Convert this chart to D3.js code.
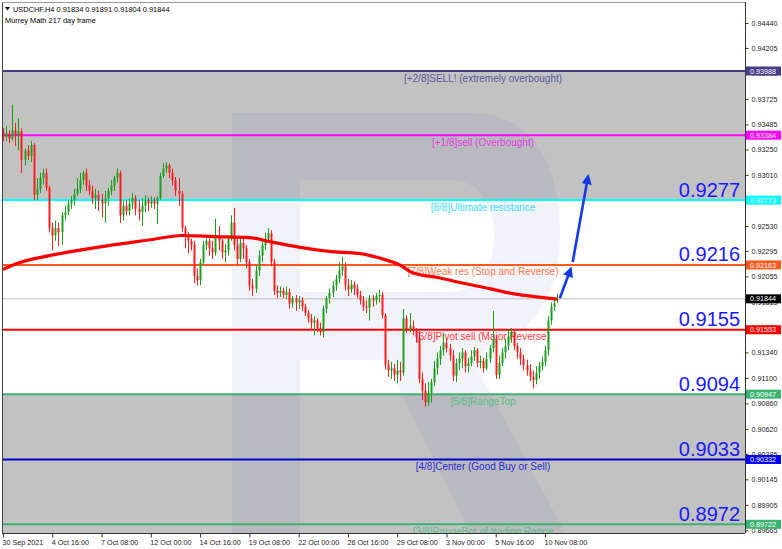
<!DOCTYPE html>
<html><head><meta charset="utf-8">
<script src="https://cdn.jsdelivr.net/npm/d3@7"></script>
<style>
body{margin:0;background:#fff}
svg{display:block}
text{font-family:"Liberation Sans",Arial,sans-serif}
</style>
</head><body><svg id="c" width="782" height="549"></svg>
<script>
// ---------- DATA ----------
const symbolTitle = "USDCHF,H4  0.91834 0.91891 0.91804 0.91844";
const subTitle = "Murrey Math 217 day frame";

const opens = [
.9341,.9337,.9340,.9335,.9343,.9338,.9342,.9315,.9324,.9319,
.9329,.9282,.9288,.9298,.9303,.9289,.9251,.9244,.9251,.9247,
.9263,.9266,.9274,.9277,.9283,.9288,.9296,.9303,.9291,.9286,
.9279,.9282,.9277,.9274,.9279,.9286,.9291,.9298,.9303,.9263,
.9272,.9267,.9274,.9279,.9269,.9266,.9272,.9277,.9274,.9277,
.9274,.9279,.9300,.9307,.9310,.9303,.9296,.9286,.9283,.9251,
.9243,.9239,.9235,.9206,.9202,.9219,.9235,.9239,.9232,.9228,
.9242,.9239,.9228,.9230,.9241,.9256,.9235,.9222,.9237,.9232,
.9219,.9197,.9194,.9211,.9225,.9235,.9241,.9246,.9219,.9192,
.9190,.9192,.9188,.9191,.9180,.9185,.9181,.9183,.9177,.9171,
.9166,.9162,.9164,.9157,.9153,.9175,.9185,.9190,.9197,.9203,
.9211,.9215,.9197,.9193,.9198,.9194,.9188,.9183,.9177,.9176,
.9185,.9183,.9187,.9188,.9169,.9122,.9117,.9119,.9113,.9117,
.9115,.9166,.9156,.9159,.9155,.9148,.9109,.9098,.9087,.9096,
.9106,.9119,.9128,.9136,.9143,.9138,.9131,.9112,.9124,.9128,
.9134,.9121,.9124,.9130,.9136,.9124,.9126,.9119,.9128,.9138,
.9147,.9113,.9124,.9134,.9140,.9149,.9153,.9140,.9134,.9128,
.9122,.9117,.9111,.9108,.9115,.9121,.9125,.9136,.9164,.9177,
.91834];
const highs = [
.9345,.9347,.9343,.9367,.9350,.9354,.9345,.9326,.9329,.9333,
.9331,.9298,.9303,.9307,.9307,.9291,.9256,.9258,.9256,.9266,
.9272,.9277,.9281,.9288,.9298,.9303,.9305,.9307,.9296,.9291,
.9288,.9286,.9283,.9286,.9289,.9296,.9300,.9307,.9305,.9277,
.9277,.9279,.9284,.9282,.9277,.9279,.9282,.9280,.9281,.9280,
.9281,.9303,.9312,.9313,.9312,.9307,.9299,.9298,.9286,.9253,
.9247,.9241,.9239,.9213,.9222,.9239,.9241,.9241,.9239,.9260,
.9253,.9241,.9236,.9244,.9263,.9270,.9241,.9241,.9243,.9235,
.9222,.9203,.9216,.9230,.9239,.9247,.9251,.9249,.9222,.9197,
.9196,.9195,.9196,.9194,.9187,.9188,.9187,.9186,.9180,.9174,
.9170,.9168,.9166,.9162,.9178,.9187,.9194,.9201,.9207,.9219,
.9224,.9219,.9203,.9202,.9201,.9198,.9192,.9187,.9183,.9188,
.9188,.9190,.9193,.9191,.9171,.9127,.9125,.9123,.9127,.9125,
.9175,.9169,.9171,.9164,.9157,.9155,.9115,.9105,.9106,.9109,
.9126,.9134,.9140,.9152,.9147,.9142,.9136,.9128,.9134,.9138,
.9136,.9129,.9136,.9139,.9138,.9131,.9129,.9134,.9141,.9173,
.9150,.9131,.9138,.9147,.9155,.9157,.9155,.9143,.9138,.9132,
.9127,.9123,.9117,.9121,.9125,.9130,.9140,.9168,.9181,.9185,
.91891];
const lows = [
.9333,.9333,.9331,.9333,.9328,.9324,.9303,.9310,.9315,.9313,
.9277,.9277,.9284,.9292,.9286,.9247,.9230,.9239,.9234,.9235,
.9258,.9263,.9269,.9272,.9281,.9284,.9292,.9286,.9282,.9274,
.9269,.9267,.9261,.9256,.9272,.9282,.9286,.9294,.9256,.9258,
.9263,.9263,.9269,.9263,.9258,.9253,.9266,.9267,.9270,.9269,
.9255,.9277,.9298,.9303,.9298,.9291,.9281,.9272,.9247,.9232,
.9227,.9230,.9199,.9197,.9197,.9216,.9230,.9225,.9222,.9225,
.9230,.9222,.9219,.9225,.9239,.9230,.9216,.9219,.9222,.9213,
.9192,.9187,.9190,.9206,.9219,.9230,.9237,.9215,.9188,.9185,
.9186,.9185,.9184,.9175,.9176,.9173,.9175,.9173,.9168,.9162,
.9155,.9150,.9153,.9150,.9148,.9171,.9180,.9186,.9192,.9199,
.9206,.9192,.9187,.9190,.9188,.9185,.9179,.9173,.9171,.9164,
.9177,.9179,.9181,.9166,.9118,.9111,.9109,.9107,.9105,.9107,
.9112,.9152,.9153,.9150,.9143,.9105,.9089,.9083,.9084,.9087,
.9102,.9113,.9122,.9131,.9134,.9126,.9107,.9106,.9117,.9119,
.9115,.9115,.9121,.9126,.9120,.9119,.9115,.9117,.9124,.9134,
.9109,.9109,.9121,.9128,.9136,.9143,.9136,.9128,.9122,.9117,
.9112,.9107,.9100,.9104,.9109,.9117,.9121,.9131,.9160,.9173,
.91804];
const closes = [
.9337,.9340,.9335,.9343,.9338,.9342,.9315,.9324,.9319,.9329,
.9282,.9288,.9298,.9303,.9289,.9251,.9244,.9251,.9247,.9263,
.9266,.9274,.9277,.9283,.9288,.9296,.9303,.9291,.9286,.9279,
.9282,.9277,.9274,.9279,.9286,.9291,.9298,.9303,.9263,.9272,
.9267,.9274,.9279,.9269,.9266,.9272,.9277,.9274,.9277,.9274,
.9279,.9300,.9307,.9310,.9303,.9296,.9286,.9283,.9251,.9243,
.9239,.9235,.9206,.9202,.9219,.9235,.9239,.9232,.9228,.9242,
.9239,.9228,.9230,.9241,.9256,.9235,.9222,.9237,.9232,.9219,
.9197,.9194,.9211,.9225,.9235,.9241,.9246,.9219,.9192,.9190,
.9192,.9188,.9191,.9180,.9185,.9181,.9183,.9177,.9171,.9166,
.9162,.9164,.9157,.9153,.9175,.9185,.9190,.9197,.9203,.9211,
.9215,.9197,.9193,.9198,.9194,.9188,.9183,.9177,.9176,.9185,
.9183,.9187,.9188,.9169,.9122,.9117,.9119,.9113,.9117,.9115,
.9166,.9156,.9159,.9155,.9148,.9109,.9098,.9087,.9096,.9106,
.9119,.9128,.9136,.9143,.9138,.9131,.9112,.9124,.9128,.9134,
.9121,.9124,.9130,.9136,.9124,.9126,.9119,.9128,.9138,.9147,
.9113,.9124,.9134,.9140,.9149,.9153,.9140,.9134,.9128,.9122,
.9117,.9111,.9108,.9115,.9121,.9125,.9136,.9164,.9177,.9180,
.91844];

// moving average (read at sample bars)
const maBars   = [0,5,15,31,48,58,69,80,87,96,106,116,122,129,133,142,148,158,166,174,180];
const maValues = [.9212,.9218,.9225,.9233,.9240,.9244,.9243,.9242,.9238,.9233,.9229,.9227,.9223,.9216,.9209,.9204,.9200,.9194,.9189,.9186,.9184];

// Murrey Math levels
const levelValues = [0.93988,0.93384,0.92773,0.92163,0.91553,0.90947,0.90332,0.89722];
const levelLabels = ["[+2/8]SELL! (extremely overbought)","[+1/8]sell (Overbought)","[8/8]Ultimate resistance",
  "[7/8]Weak res (Stop and Reverse)","[6/8]Pivot sell (Major Reverse)","[5/8]RangeTop",
  "[4/8]Center (Good Buy or Sell)","[3/8]RangeBot of trading Range"];
const bigValues = [0.92773,0.92163,0.91553,0.90947,0.90332,0.89722];
const bigLabels = ["0.9277","0.9216","0.9155","0.9094","0.9033","0.8972"];
const currentPrice = 0.91844;

// forecast arrow (bar index, price)
const arrowFromBar = [180.8,185.0], arrowFromPrice = [0.9185,0.9219];
const arrowToBar   = [184.4,190.0], arrowToPrice   = [0.9213,0.9300];

// axes
const yTickValues = [0.94440,0.94205,0.93965,0.93725,0.93485,0.93250,0.93010,0.92770,0.92530,0.92295,0.92055,
  0.91815,0.91580,0.91340,0.91100,0.90860,0.90620,0.90385,0.90145,0.89905,0.89665];
const xTickBars = [0,16,32,48,64,80,96,112,128,144,160,176];
const xTickLabels = ["30 Sep 2021","4 Oct 16:00","7 Oct 08:00","12 Oct 00:00","14 Oct 16:00","19 Oct 08:00",
  "22 Oct 00:00","26 Oct 16:00","29 Oct 08:00","3 Nov 00:00","5 Nov 16:00","10 Nov 08:00"];

// ---------- STYLES ----------
const levelColors = ["#483d8b","#ff00ff","#00ffff","#ff5a1e","#ff0000","#3cb371","#0000c8","#3cb371"];
const labelColors = ["#5a5a9c","#e23ce2","#3adcff","#ff7a4a","#ff3a3a","#5cbf8a","#2a2ad0","#5cbf8a"];
const boxColors   = ["#483d8b","#ff00ff","#00ffff","#ff5a1e","#ff0000","#3cb371","#0000ff","#3cb371"];
const bull = "#1e9e1e", bear = "#ff1e1e";

// ---------- LAYOUT ----------
const L = 2, R = 745, T = 2, B = 533;
const svg = d3.select("#c");
const x = d3.scaleLinear().domain([0,176]).range([3,545]);
const y = d3.scaleLinear().domain([0.89722,0.93988]).range([524.3,71]);

svg.append("defs").append("clipPath").attr("id","plot")
  .append("rect").attr("x",L).attr("y",T).attr("width",R-L).attr("height",B-T);
svg.select("defs").append("marker").attr("id","ah").attr("viewBox","0 0 10 10")
  .attr("refX",8).attr("refY",5).attr("markerWidth",4).attr("markerHeight",4)
  .attr("orient","auto").append("path").attr("d","M0,0 L10,5 L0,10 Z").attr("fill","#1439e6");

const g = svg.append("g").attr("clip-path","url(#plot)");
// background bands
g.append("rect").attr("x",L).attr("y",T).attr("width",R-L).attr("height",B-T).attr("fill","#fff");
g.append("rect").attr("x",L).attr("y",y(levelValues[0])).attr("width",R-L)
  .attr("height",y(levelValues[2])-y(levelValues[0])).attr("fill","#c2c2c2");
g.append("rect").attr("x",L).attr("y",y(levelValues[5])).attr("width",R-L)
  .attr("height",B-y(levelValues[5])).attr("fill","#c2c2c2");

// watermark "R"
g.append("path")
  .attr("d","M232,113 H470 C530,113 560,160 560,235 C560,300 525,345 470,355 L565,533 H470 L385,360 H300 V533 H232 Z " +
            "M300,180 H450 C480,180 494,205 494,236 C494,270 475,292 450,292 H300 Z")
  .attr("fill","#3d5a96").attr("fill-opacity",0.07).attr("fill-rule","evenodd");

// level lines
levelValues.forEach((v,i)=>{
  g.append("line").attr("x1",L).attr("x2",R).attr("y1",y(v)).attr("y2",y(v))
   .attr("stroke",levelColors[i]).attr("stroke-width",2);
});
// current price line
g.append("line").attr("x1",L).attr("x2",R).attr("y1",y(currentPrice)).attr("y2",y(currentPrice))
  .attr("stroke","#bdbdbd").attr("stroke-width",1);

// level labels
levelValues.forEach((v,i)=>{
  g.append("text").attr("x",483).attr("y",y(v)+10.5).attr("text-anchor","middle")
   .attr("font-size",10).attr("fill",labelColors[i]).text(levelLabels[i]);
});

// candles
const idx = d3.range(closes.length);
g.append("g").selectAll("line").data(idx).join("line")
  .attr("x1",i=>Math.round(x(i))+0.5).attr("x2",i=>Math.round(x(i))+0.5)
  .attr("y1",i=>y(highs[i])).attr("y2",i=>y(lows[i]))
  .attr("stroke",i=>closes[i]>=opens[i]?bull:bear).attr("stroke-width",1);
g.append("g").selectAll("rect").data(idx).join("rect")
  .attr("x",i=>Math.round(x(i))-0.5).attr("width",2)
  .attr("y",i=>y(Math.max(opens[i],closes[i])))
  .attr("height",i=>Math.max(1,Math.abs(y(opens[i])-y(closes[i]))))
  .attr("fill",i=>closes[i]>=opens[i]?bull:bear);

// moving average
g.append("path").datum(d3.range(maBars.length))
  .attr("d",d3.line().x(i=>x(maBars[i])).y(i=>y(maValues[i])).curve(d3.curveMonotoneX))
  .attr("fill","none").attr("stroke","#ff0000").attr("stroke-width",3.2);

// forecast arrow
arrowFromBar.forEach((b,i)=>{
  svg.append("line").attr("x1",x(b)).attr("y1",y(arrowFromPrice[i]))
    .attr("x2",x(arrowToBar[i])).attr("y2",y(arrowToPrice[i]))
    .attr("stroke","#1439e6").attr("stroke-width",2.6).attr("marker-end","url(#ah)");
});

// big right labels
bigValues.forEach((v,i)=>{
  svg.append("text").attr("x",740).attr("y",y(v)-3.5).attr("text-anchor","end")
    .attr("font-size",20).attr("fill","#1a1aff").text(bigLabels[i]);
});

// frame
svg.append("line").attr("x1",L+0.5).attr("x2",L+0.5).attr("y1",T).attr("y2",B).attr("stroke","#444");
svg.append("line").attr("x1",L).attr("x2",R).attr("y1",T+0.5).attr("y2",T+0.5).attr("stroke","#999");

// right axis
const ay = svg.append("g").attr("transform",`translate(${R+0.5},0)`)
  .call(d3.axisRight(y).tickValues(yTickValues).tickFormat(d3.format(".5f")).tickSize(3).tickPadding(3));
ay.select(".domain").attr("d",`M0,${T}V${B}`).attr("stroke","#333");
ay.selectAll("text").attr("font-size",7.2).attr("fill","#222").attr("font-family","Liberation Sans, Arial, sans-serif");
ay.selectAll(".tick line").attr("stroke","#333");

// bottom axis
const ax = svg.append("g").attr("transform",`translate(0,${B+0.5})`)
  .call(d3.axisBottom(x).tickValues(xTickBars).tickFormat((d,i)=>xTickLabels[i]).tickSize(4).tickPadding(2));
ax.select(".domain").attr("d",`M${L},0H${R}`).attr("stroke","#333");
ax.selectAll(".tick line").attr("stroke","#333");
ax.selectAll("text").attr("font-size",7.2).attr("fill","#222").attr("text-anchor","start").attr("dx",-1)
  .attr("font-family","Liberation Sans, Arial, sans-serif");

// price boxes
const boxVals = levelValues.concat([currentPrice]);
const boxCols = boxColors.concat(["#000"]);
boxVals.forEach((v,i)=>{
  svg.append("rect").attr("x",R+1).attr("y",y(v)-4.5).attr("width",35).attr("height",9).attr("fill",boxCols[i]);
  svg.append("text").attr("x",R+5).attr("y",y(v)+2.6).attr("font-size",7.2).attr("fill","#fff")
    .text(d3.format(".5f")(v));
});

// title
svg.append("path").attr("d","M5,7 L10,7 L7.5,10.5 Z").attr("fill","#000");
svg.append("text").attr("x",13).attr("y",12).attr("font-size",7.4).attr("fill","#000").text(symbolTitle);
svg.append("text").attr("x",5).attr("y",22.5).attr("font-size",7.4).attr("fill","#000").text(subTitle);
</script>
</body></html>
